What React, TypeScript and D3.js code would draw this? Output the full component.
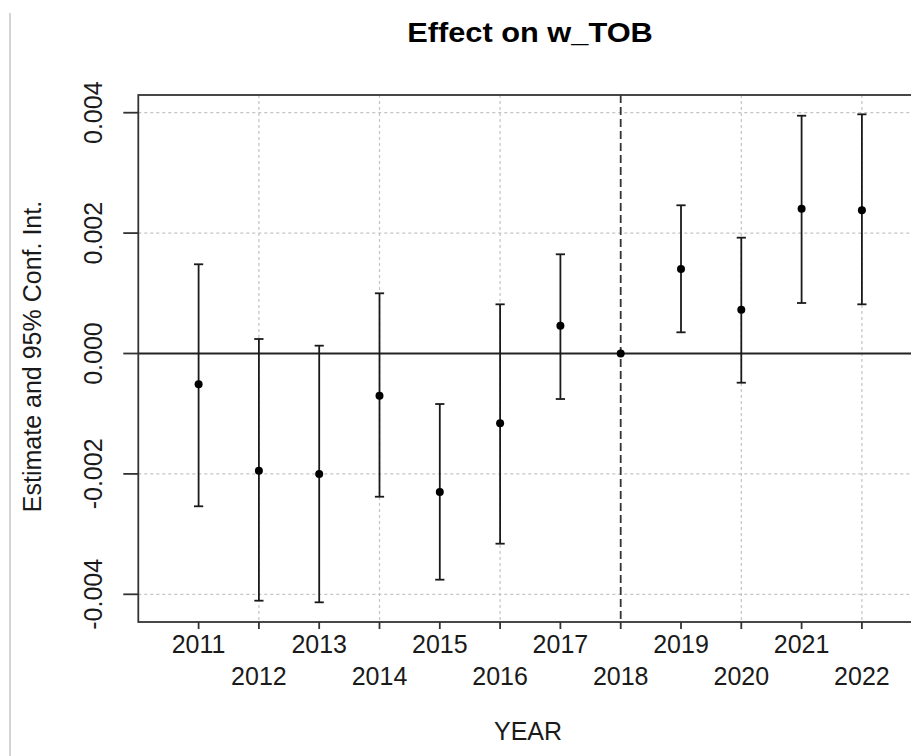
import React from "react";
import * as d3 from "d3";

const years = [2011, 2012, 2013, 2014, 2015, 2016, 2017, 2018, 2019, 2020, 2021, 2022];
const estimates = [-0.000512, -0.001947, -0.002002, -0.000701, -0.002301, -0.001159, 0.000462, 0, 0.001404, 0.000728, 0.002405, 0.002379];
const lowers = [-0.002538, -0.004106, -0.004133, -0.002379, -0.003757, -0.003159, -0.000756, 0, 0.000352, -0.000485, 0.000839, 0.000817];
const uppers = [0.001482, 0.000241, 0.00013, 0.001, -0.000839, 0.000817, 0.001648, 0, 0.002462, 0.001924, 0.00395, 0.003973];
const yTicks = [-0.004, -0.002, 0, 0.002, 0.004];
const yTickLabels = ["-0.004", "-0.002", "0.000", "0.002", "0.004"];
const gridYears = [2012, 2014, 2016, 2020, 2022];
const refYear = 2018;
const title = "Effect on w_TOB";
const xTitle = "YEAR";
const yTitle = "Estimate and 95% Conf. Int.";

const W = 911;
const H = 756;
const left = 138.3;
const right = 922.2;
const top = 95;
const bottom = 622;

export default function App() {
  const x = d3.scaleLinear().domain([2010, 2023]).range([left, right]);
  const y = d3.scaleLinear().domain([-0.00446, 0.004294]).range([bottom, top]);
  const font = "'Liberation Sans', Arial, sans-serif";
  const cap = 4.6;
  return (
    <svg
      width={W}
      height={H}
      style={{ position: "absolute", left: 0, top: 0, background: "#fff" }}
      fontFamily={font}
    >
      <rect x={0} y={0} width={W} height={H} fill="#fff" />
      <line x1={10} x2={10} y1={13} y2={H} stroke="#d4d4d4" strokeWidth={2} />
      {/* grid */}
      {gridYears.map((g) => (
        <line key={"gx" + g} x1={x(g)} x2={x(g)} y1={top} y2={bottom} stroke="#c4c4c4" strokeWidth={1.2} strokeDasharray="3,3" />
      ))}
      {yTicks.map((t) => (
        <line key={"gy" + t} x1={left} x2={right} y1={y(t)} y2={y(t)} stroke="#c4c4c4" strokeWidth={1.2} strokeDasharray="3,3" />
      ))}
      {/* zero line */}
      <line x1={left} x2={right} y1={y(0)} y2={y(0)} stroke="#222" strokeWidth={1.8} />
      {/* reference dashed line */}
      <line x1={x(refYear)} x2={x(refYear)} y1={top} y2={bottom} stroke="#333" strokeWidth={1.8} strokeDasharray="8,4" />
      {/* error bars */}
      {years.map((yr, i) => (
        <g key={"e" + yr} stroke="#1a1a1a" strokeWidth={1.8}>
          {lowers[i] !== uppers[i] && (
            <>
              <line x1={x(yr)} x2={x(yr)} y1={y(lowers[i])} y2={y(uppers[i])} />
              <line x1={x(yr) - cap} x2={x(yr) + cap} y1={y(lowers[i])} y2={y(lowers[i])} />
              <line x1={x(yr) - cap} x2={x(yr) + cap} y1={y(uppers[i])} y2={y(uppers[i])} />
            </>
          )}
        </g>
      ))}
      {years.map((yr, i) => (
        <circle key={"p" + yr} cx={x(yr)} cy={y(estimates[i])} r={4} fill="#000" />
      ))}
      {/* box */}
      <rect x={left} y={top} width={right - left} height={bottom - top} fill="none" stroke="#333" strokeWidth={1.8} />
      {/* x axis ticks */}
      {years.map((yr, i) => (
        <g key={"xt" + yr}>
          <line x1={x(yr)} x2={x(yr)} y1={bottom} y2={bottom + 7} stroke="#333" strokeWidth={1.8} />
          <text x={x(yr)} y={i % 2 === 0 ? 653 : 685} textAnchor="middle" fontSize={25} fill="#1a1a1a">
            {yr}
          </text>
        </g>
      ))}
      {/* y axis ticks */}
      {yTicks.map((t, i) => (
        <g key={"yt" + t}>
          <line x1={left - 15} x2={left} y1={y(t)} y2={y(t)} stroke="#333" strokeWidth={1.8} />
          <text
            transform={`translate(102, ${y(t)}) rotate(-90)`}
            textAnchor="middle"
            fontSize={25}
            fill="#1a1a1a"
          >
            {yTickLabels[i]}
          </text>
        </g>
      ))}
      {/* titles */}
      <text transform="translate(530, 42) scale(1.14, 1)" textAnchor="middle" fontSize={27} fontWeight="bold" fill="#000">
        {title}
      </text>
      <text x={528} y={740} textAnchor="middle" fontSize={25} fill="#1a1a1a">
        {xTitle}
      </text>
      <text transform={`translate(41, ${(top + bottom) / 2 - 2}) rotate(-90)`} textAnchor="middle" fontSize={25} fill="#1a1a1a">
        {yTitle}
      </text>
    </svg>
  );
}
